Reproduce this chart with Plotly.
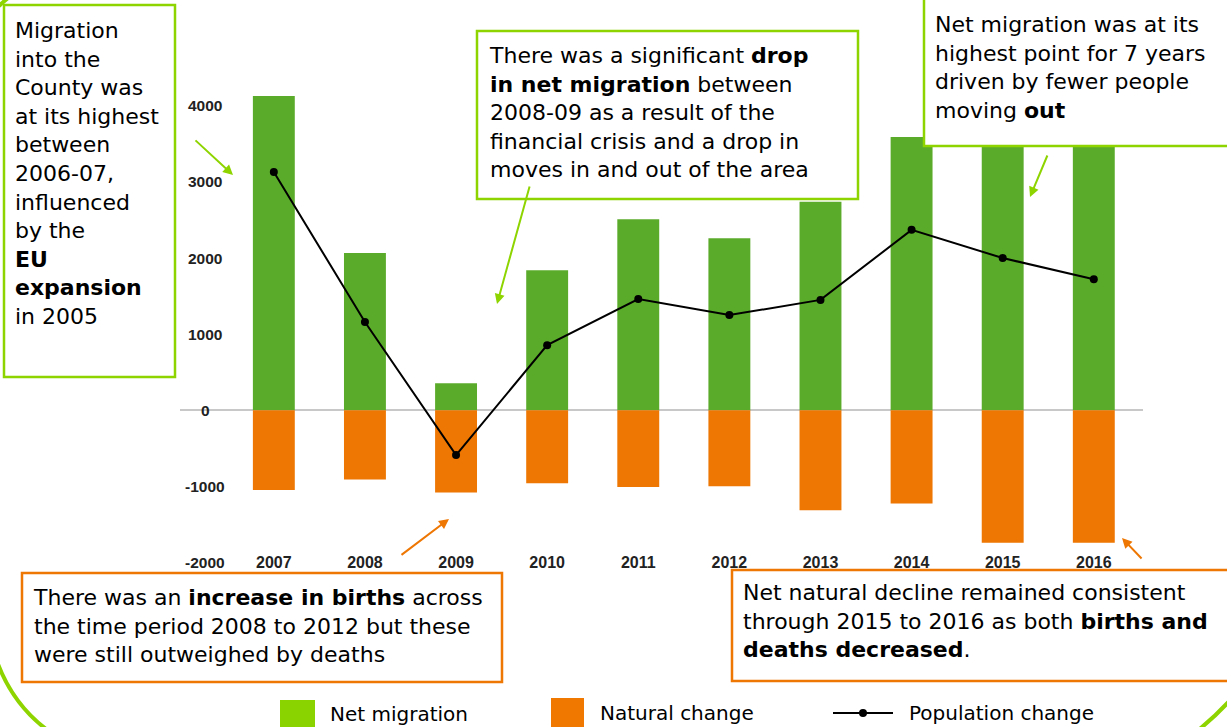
import plotly.graph_objects as go

# ---------------- data ----------------
years = [2007, 2008, 2009, 2010, 2011, 2012, 2013, 2014, 2015, 2016]
net_migration = [4130, 2065, 355, 1840, 2510, 2260, 2740, 3590, 3750, 3490]
natural_change = [-1050, -910, -1080, -960, -1010, -1000, -1315, -1225, -1740, -1740]
population_change = [3130, 1160, -590, 855, 1460, 1250, 1450, 2370, 2000, 1720]
y_tick_values = [4000, 3000, 2000, 1000, 0, -1000, -2000]

# ---------------- layout constants ----------------
W, H = 1227, 727
ML, MR, MT, MB = 180, 84, 83, 176
PW, PH = W - ML - MR, H - MT - MB
YR = [-1850, 4300]
XR = [2005.97, 2016.54]

GREEN_BAR = "#5bab2a"
ORANGE = "#ee7602"
LIME = "#8dd400"
FONT = "DejaVu Sans"


def px(x):
    return (x - ML) / PW


def py(y):
    return (H - MB - y) / PH


def yval(v):
    return (v - YR[0]) / (YR[1] - YR[0])


fig = go.Figure()
fig.add_trace(go.Bar(x=years, y=net_migration, name="Net migration",
                     marker=dict(color=GREEN_BAR, line=dict(width=0)), width=0.46))
fig.add_trace(go.Bar(x=years, y=natural_change, name="Natural change",
                     marker=dict(color=ORANGE, line=dict(width=0)), width=0.46))
fig.add_trace(go.Scatter(x=years, y=population_change, name="Population change",
                         mode="lines+markers", line=dict(color="black", width=2),
                         marker=dict(color="black", size=8)))

shapes = []
annotations = []

# y tick labels
for v in y_tick_values:
    annotations.append(dict(xref="paper", yref="paper", x=px(205), y=yval(v),
                            text=f"<b>{v}</b>", showarrow=False, xanchor="center",
                            yanchor="middle",
                            font=dict(family="Liberation Sans", size=15.5, color="#222")))

# callout boxes
boxes = [
    (4, 5, 175, 377, LIME, 13, 16,
     "Migration<br>into the<br>County was<br>at its highest<br>between<br>2006-07,<br>influenced<br>by the<br><b>EU</b><br><b>expansion</b><br>in 2005"),
    (477, 31, 858, 199, LIME, 487, 41,
     "There was a significant <b>drop</b><br><b>in net migration</b> between<br>2008-09 as a result of the<br>financial crisis and a drop in<br>moves in and out of the area"),
    (924, -3, 1235, 146, LIME, 933, 10,
     "Net migration was at its<br>highest point for 7 years<br>driven by fewer people<br>moving <b>out</b>"),
    (22, 573, 502, 682, ORANGE, 31, 583,
     "There was an <b>increase in births</b> across<br>the time period 2008 to 2012 but these<br>were still outweighed by deaths"),
    (732, 570, 1235, 681, ORANGE, 741, 578,
     "Net natural decline remained consistent<br>through 2015 to 2016 as both <b>births and</b><br><b>deaths decreased</b>."),
]
for x0, y0, x1, y1, col, tx, ty, txt in boxes:
    shapes.append(dict(type="rect", xref="paper", yref="paper",
                       x0=px(x0), x1=px(x1), y0=py(y0), y1=py(y1),
                       line=dict(color=col, width=2.5), fillcolor="white", layer="above"))
    annotations.append(dict(xref="paper", yref="paper", x=px(tx), y=py(ty), text=txt,
                            showarrow=False, xanchor="left", yanchor="top", align="left",
                            font=dict(family=FONT, size=22, color="black")))

# arrows (head, tail)
arrows = [
    ((233, 175), (194, 139), LIME),
    ((497, 304), (530, 185), LIME),
    ((1030, 197), (1048, 154), LIME),
    ((449, 519), (400, 556), ORANGE),
    ((1122, 538), (1143, 560), ORANGE),
]
for (hx, hy), (tx, ty), col in arrows:
    annotations.append(dict(xref="paper", yref="paper", x=px(hx), y=py(hy),
                            ax=tx - hx, ay=ty - hy, text="", showarrow=True,
                            arrowhead=2, arrowsize=1, arrowwidth=2, arrowcolor=col))

# custom legend
shapes.append(dict(type="rect", xref="paper", yref="paper", x0=px(280), x1=px(315),
                   y0=py(700), y1=py(732), line=dict(width=0), fillcolor="#8ad200"))
shapes.append(dict(type="rect", xref="paper", yref="paper", x0=px(551), x1=px(584),
                   y0=py(698), y1=py(732), line=dict(width=0), fillcolor="#f07800"))
shapes.append(dict(type="line", xref="paper", yref="paper", x0=px(833), x1=px(893),
                   y0=py(713), y1=py(713), line=dict(color="black", width=2)))
shapes.append(dict(type="circle", xref="paper", yref="paper", x0=px(859), x1=px(867),
                   y0=py(709), y1=py(717), line=dict(width=0), fillcolor="black"))
for lx, ly, lt in [(328, 714, "Net migration"), (598, 713, "Natural change"),
                   (907, 713, "Population change")]:
    annotations.append(dict(xref="paper", yref="paper", x=px(lx), y=py(ly), text=lt,
                            showarrow=False, xanchor="left", yanchor="middle",
                            font=dict(family=FONT, size=20, color="black")))

# decorative slide corners
def pth(pts):
    (x0, y0), (cx, cy), (x1, y1) = pts
    return f"M {px(x0)},{py(y0)} Q {px(cx)},{py(cy)} {px(x1)},{py(y1)}"

for pts in [((-2, 664), (14, 706), (50, 732)), ((1232, 698), (1216, 716), (1196, 732)),
            ((-1, 6), (3, 2), (8, -2))]:
    shapes.append(dict(type="path", xref="paper", yref="paper", path=pth(pts),
                       line=dict(color=LIME, width=4)))

fig.update_layout(
    width=W, height=H, margin=dict(l=ML, r=MR, t=MT, b=MB, autoexpand=False),
    paper_bgcolor="white", plot_bgcolor="white", barmode="relative",
    showlegend=False, shapes=shapes, annotations=annotations, hovermode=False,
    xaxis=dict(range=XR, tickvals=years, ticktext=[f"<b>{y}</b>" for y in years],
               showgrid=False, zeroline=False, showline=False, ticks="",
               tickfont=dict(family="Liberation Sans", size=16, color="#222")),
    yaxis=dict(range=YR, showgrid=False, zeroline=True, zerolinecolor="#c8c8c8",
               zerolinewidth=2, showticklabels=False, ticks=""),
    font=dict(family=FONT),
)
fig.write_html("out.html", config={"displayModeBar": False},
               post_script="document.body.style.margin='0px';document.body.style.overflow='hidden';")
